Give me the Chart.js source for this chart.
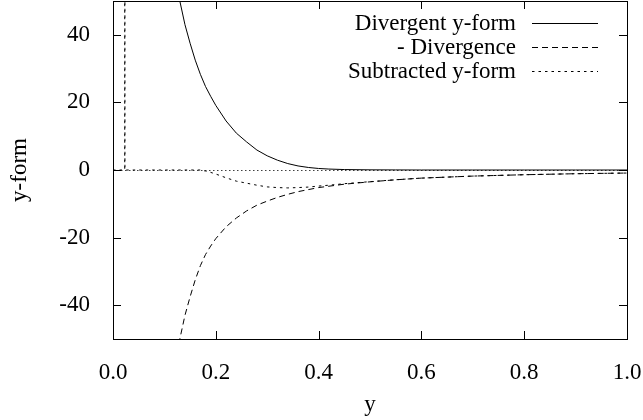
<!DOCTYPE html>
<html lang="en">
<head>
  <meta charset="UTF-8" />
  <title>y-form</title>
  <script src="https://cdn.jsdelivr.net/npm/chart.js"></script>
  <style>
    html, body { margin: 0; padding: 0; background: #fff; }
    #wrap { width: 643px; height: 420px; }
  </style>
</head>
<body>
  <div id="wrap"><canvas id="plot" width="643" height="420"></canvas></div>

  <script>
    // tick values
    const xTicks = [0, 0.2, 0.4, 0.6, 0.8, 1.0];
    const yTicks = [-40, -20, 0, 20, 40];

    // divergent y-form and its (negated) divergence, same x grid
    const divX = [0.11, 0.12, 0.13, 0.14, 0.15, 0.16, 0.17, 0.18, 0.19, 0.20,
                  0.22, 0.24, 0.26, 0.28, 0.30, 0.32, 0.34, 0.36, 0.38, 0.40,
                  0.42, 0.45, 0.50, 0.55, 0.60, 0.70, 0.80, 0.90, 1.00];
    const divergent = [78, 62, 50, 43, 37.5, 32.5, 28.3, 24.7, 21.8, 19.1,
                       14.5, 10.9, 8.3, 5.9, 4.2, 2.9, 1.9, 1.2, 0.75, 0.45,
                       0.28, 0.13, 0.05, 0.02, 0, 0, 0, 0, 0];
    const negDivergence = [-78, -62, -50, -43, -37.5, -32.5, -28.3, -25, -22.5, -20.3,
                           -16.8, -14.2, -12.1, -10.4, -9.2, -8.1, -7.2, -6.4, -5.8, -5.2,
                           -4.8, -4.2, -3.5, -2.9, -2.4, -1.8, -1.4, -1.1, -0.9];

    // subtracted y-form (has a spike near y=0.023)
    const subX = [0, 0.0228, 0.023, 0.0232, 0.10, 0.17, 0.18, 0.19, 0.20, 0.22,
                  0.24, 0.26, 0.28, 0.30, 0.32, 0.34, 0.36, 0.38, 0.40, 0.42,
                  0.45, 0.50, 0.55, 0.60, 0.70, 0.80, 0.90, 1.00];
    const subtracted = [0, 0, 1000, 0, 0, 0, -0.3, -0.7, -1.2, -2.3,
                        -3.3, -3.9, -4.5, -5.0, -5.2, -5.3, -5.2, -5.05, -4.75, -4.5,
                        -4.05, -3.45, -2.88, -2.4, -1.8, -1.4, -1.1, -0.9];

    const FONT = '"Liberation Serif", "Times New Roman", serif';

    function pts(xs, ys) {
      return xs.map((x, i) => ({ x: x, y: ys[i] }));
    }

    // gnuplot-ish frame: border, inward ticks on all sides, dotted zero axis, key
    const frame = {
      id: 'frame',
      beforeDatasetsDraw(chart) {
        const { ctx, chartArea: a, scales } = chart;
        const y0 = scales.y.getPixelForValue(0);
        ctx.save();
        ctx.strokeStyle = 'rgba(0,0,0,0.75)';
        ctx.lineWidth = 1;
        ctx.setLineDash([1.5, 2.5]);
        ctx.beginPath();
        ctx.moveTo(a.left, Math.round(y0) + 0.5);
        ctx.lineTo(a.right, Math.round(y0) + 0.5);
        ctx.stroke();
        ctx.restore();
      },
      afterDatasetsDraw(chart) {
        const { ctx, chartArea: a, scales } = chart;
        const tl = 8;
        ctx.save();
        ctx.strokeStyle = '#000';
        ctx.lineWidth = 1;
        ctx.setLineDash([]);
        ctx.strokeRect(Math.round(a.left) + 0.5, Math.round(a.top) + 0.5,
                       Math.round(a.right - a.left), Math.round(a.bottom - a.top));
        ctx.beginPath();
        xTicks.forEach(v => {
          const px = Math.round(scales.x.getPixelForValue(v)) + 0.5;
          ctx.moveTo(px, a.bottom); ctx.lineTo(px, a.bottom - tl);
          ctx.moveTo(px, a.top); ctx.lineTo(px, a.top + tl);
        });
        yTicks.forEach(v => {
          const py = Math.round(scales.y.getPixelForValue(v)) + 0.5;
          ctx.moveTo(a.left, py); ctx.lineTo(a.left + tl, py);
          ctx.moveTo(a.right, py); ctx.lineTo(a.right - tl, py);
        });
        ctx.stroke();

        // key, text then line sample
        ctx.font = '23px ' + FONT;
        ctx.fillStyle = '#000';
        ctx.textAlign = 'right';
        ctx.textBaseline = 'middle';
        chart.data.datasets.forEach((ds, i) => {
          const y = 23 + i * 24;
          ctx.fillText(ds.label, 516, y + 1);
          ctx.setLineDash(ds.borderDash || []);
          ctx.beginPath();
          ctx.moveTo(532, y + 0.5);
          ctx.lineTo(598, y + 0.5);
          ctx.stroke();
        });
        ctx.restore();
      }
    };

    const lineStyle = { borderColor: '#000', borderWidth: 1, pointRadius: 0, tension: 0, fill: false };

    new Chart(document.getElementById('plot').getContext('2d'), {
      type: 'line',
      data: {
        datasets: [
          Object.assign({ label: 'Divergent y-form', data: pts(divX, divergent), borderDash: [] }, lineStyle),
          Object.assign({ label: '- Divergence', data: pts(divX, negDivergence), borderDash: [6, 4] }, lineStyle),
          Object.assign({ label: 'Subtracted y-form', data: pts(subX, subtracted), borderDash: [2.5, 4] }, lineStyle)
        ]
      },
      options: {
        responsive: false,
        animation: false,
        layout: { padding: { top: 1, right: 16, left: 0, bottom: 0 } },
        plugins: { legend: { display: false }, tooltip: { enabled: false } },
        scales: {
          x: {
            type: 'linear',
            min: 0,
            max: 1,
            afterBuildTicks: s => { s.ticks = xTicks.map(v => ({ value: v })); },
            afterFit: s => { s.height = 81; s.paddingLeft = 0; s.paddingRight = 0; },
            grid: { display: false },
            border: { display: false },
            ticks: {
              color: '#000',
              padding: 12,
              maxRotation: 0,
              font: { family: FONT, size: 23 },
              callback: v => Number(v).toFixed(1)
            },
            title: {
              display: true,
              text: 'y',
              color: '#000',
              font: { family: FONT, size: 23 },
              padding: { top: 1, bottom: 1 }
            }
          },
          y: {
            type: 'linear',
            min: -50,
            max: 50,
            afterBuildTicks: s => { s.ticks = yTicks.map(v => ({ value: v })); },
            afterFit: s => { s.width = 113; s.paddingTop = 0; s.paddingBottom = 0; },
            grid: { display: false },
            border: { display: false },
            ticks: {
              color: '#000',
              padding: 15,
              font: { family: FONT, size: 23 }
            },
            title: {
              display: true,
              text: 'y-form',
              color: '#000',
              font: { family: FONT, size: 23 },
              padding: { top: 6, bottom: 6 }
            }
          }
        }
      },
      plugins: [frame]
    });
  </script>
</body>
</html>
